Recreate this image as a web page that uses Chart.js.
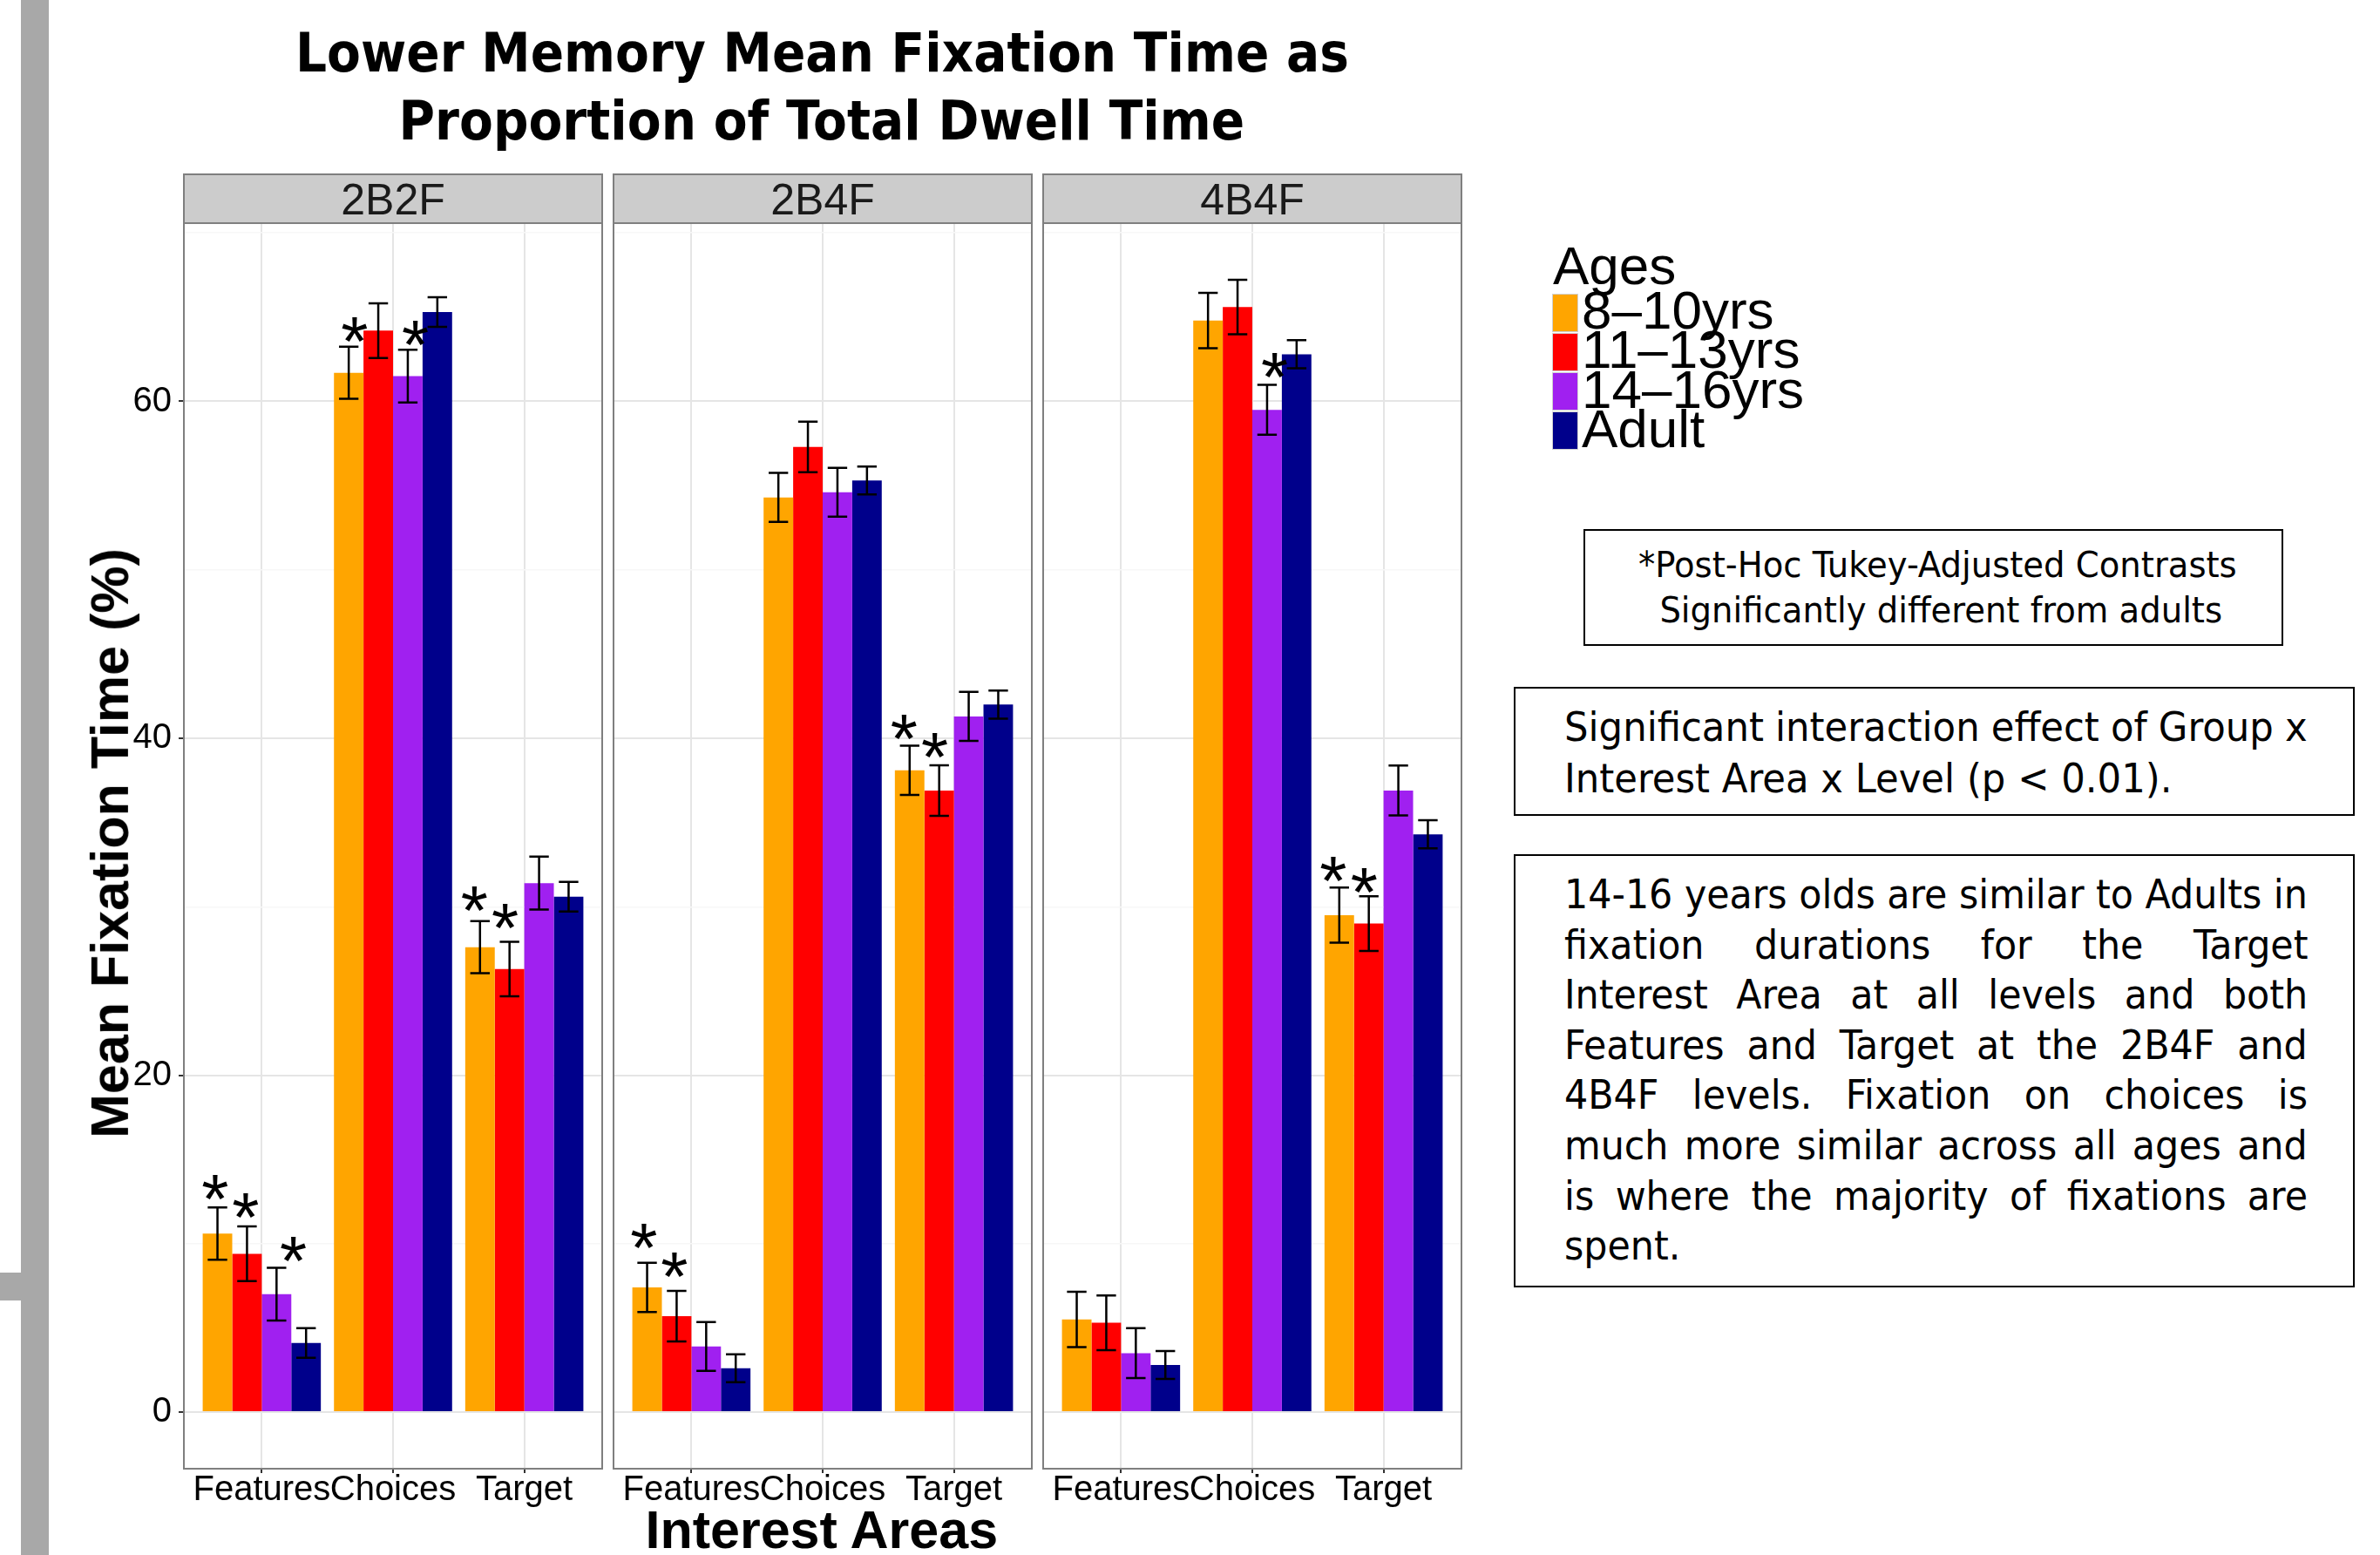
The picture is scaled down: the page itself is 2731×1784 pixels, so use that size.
<!DOCTYPE html>
<html>
<head>
<meta charset="utf-8">
<script src="https://cdn.jsdelivr.net/npm/chart.js@4.4.0/dist/chart.umd.min.js"></script>
<style>
  html, body { margin: 0; padding: 0; background: #fff; }
  body { width: 2731px; height: 1784px; position: relative; overflow: hidden; }
  .abs { position: absolute; white-space: nowrap; line-height: 1; color: #000; }
  canvas { position: absolute; }
  .box { position: absolute; border: 2.5px solid #000; box-sizing: border-box; }
  .key { position: absolute; width: 30px; height: 44px; box-sizing: border-box; border: 1px solid #d0d0d0; }
</style>
</head>
<body>
<div style="position:absolute;left:24px;top:0;width:32px;height:1784px;background:#a8a8a8"></div>
<div style="position:absolute;left:0;top:1460px;width:24px;height:32px;background:#a8a8a8"></div>
<div class="box" style="left:1817px;top:607px;width:803px;height:134px"></div>
<div class="box" style="left:1737px;top:788px;width:965px;height:148px"></div>
<div class="box" style="left:1737px;top:980px;width:965px;height:497px"></div>

<script>
const levels = ['2B2F', '2B4F', '4B4F'];
const areas = ['Features', 'Choices', 'Target'];
const ages = ['8–10yrs', '11–13yrs', '14–16yrs', 'Adult'];
const yTicks = [0, 20, 40, 60];

// mean fixation time (%), one row per age group, one column per interest area
const mean2B2F = [[10.6, 61.7, 27.6], [9.4, 64.2, 26.3], [7.0, 61.5, 31.4], [4.1, 65.3, 30.6]];
const mean2B4F = [[7.4, 54.3, 38.1], [5.7, 57.3, 36.9], [3.9, 54.6, 41.3], [2.6, 55.3, 42.0]];
const mean4B4F = [[5.5, 64.8, 29.5], [5.3, 65.6, 29.0], [3.5, 59.5, 36.9], [2.8, 62.8, 34.3]];

// standard error per age group
const se2B2F = [1.55, 1.62, 1.57, 0.88];
const se2B4F = [1.46, 1.50, 1.45, 0.83];
const se4B4F = [1.64, 1.62, 1.48, 0.83];

// significance stars: [position on the area axis, value]
const stars2B2F = [[0.645, 13.6], [0.876, 12.5], [1.24, 9.9], [1.707, 64.5], [2.17, 64.3], [2.62, 30.7], [2.853, 29.7]];
const stars2B4F = [[0.638, 10.7], [0.87, 9.0], [2.62, 40.9], [2.854, 39.8]];
const stars4B4F = [[2.17, 62.4], [2.617, 32.5], [2.852, 31.8]];

const means = [mean2B2F, mean2B4F, mean4B4F];
const ses = [se2B2F, se2B4F, se4B4F];
const stars = [stars2B2F, stars2B4F, stars4B4F];

const ageColors = ['#FFA500', '#FF0000', '#A020F0', '#00008B'];

// ggplot-style expansion of the value axis
let dataTop = 0;
means.forEach((m, p) => m.forEach((row, s) => row.forEach(v => { dataTop = Math.max(dataTop, v + ses[p][s]); })));
const yMax = dataTop * 1.05;
const yMin = -dataTop * 0.05;
const gridVals = [];
for (let v = 0; v <= yMax; v += 10) gridVals.push(v);

const panelLeft = [210, 703, 1196];
const panelW = 482;
const stripH = 57;
const canvasTop = 199;
const canvasH = 1546;
const xAxisH = 60;
const starSize = 80;

function decor(p) {
  return {
    id: 'decor' + p,
    beforeDraw(chart) {
      const { ctx, chartArea: a } = chart;
      ctx.save();
      ctx.fillStyle = '#fff';
      ctx.fillRect(a.left, a.top, a.right - a.left, a.bottom - a.top);
      ctx.fillStyle = '#cccccc';
      ctx.fillRect(a.left, a.top - stripH, a.right - a.left, stripH);
      ctx.strokeStyle = '#7f7f7f';
      ctx.lineWidth = 2;
      ctx.strokeRect(a.left + 1, a.top - stripH + 1, a.right - a.left - 2, stripH - 1);
      ctx.fillStyle = '#1a1a1a';
      ctx.font = '50px "Liberation Sans", Arial, sans-serif';
      ctx.textAlign = 'center';
      ctx.textBaseline = 'alphabetic';
      ctx.fillText(levels[p], (a.left + a.right) / 2, a.top - stripH / 2 + 18);
      ctx.restore();
    },
    afterDatasetsDraw(chart) {
      const { ctx } = chart;
      const y = chart.scales.y, x = chart.scales.x;
      ctx.save();
      ctx.strokeStyle = '#000';
      ctx.lineWidth = 2.5;
      chart.data.datasets.forEach((ds, di) => {
        chart.getDatasetMeta(di).data.forEach((bar, i) => {
          const v = ds.data[i].y, e = ds.se;
          const hi = y.getPixelForValue(v + e), lo = y.getPixelForValue(v - e);
          const hw = bar.width * 0.33;
          ctx.beginPath();
          ctx.moveTo(bar.x, hi); ctx.lineTo(bar.x, lo);
          ctx.moveTo(bar.x - hw, hi); ctx.lineTo(bar.x + hw, hi);
          ctx.moveTo(bar.x - hw, lo); ctx.lineTo(bar.x + hw, lo);
          ctx.stroke();
        });
      });
      ctx.fillStyle = '#000';
      ctx.font = starSize + 'px "Liberation Sans", Arial, sans-serif';
      ctx.textAlign = 'center';
      ctx.textBaseline = 'alphabetic';
      stars[p].forEach(([sx, sy]) => {
        ctx.fillText('*', x.getPixelForValue(sx), y.getPixelForValue(sy) + starSize * 0.57);
      });
      ctx.restore();
    },
    afterDraw(chart) {
      const { ctx, chartArea: a } = chart;
      ctx.save();
      ctx.strokeStyle = '#7f7f7f';
      ctx.lineWidth = 2;
      ctx.strokeRect(a.left + 1, a.top, a.right - a.left - 2, a.bottom - a.top);
      ctx.restore();
    }
  };
}

levels.forEach((lvl, p) => {
  const axisW = p === 0 ? 70 : 0;
  const cv = document.createElement('canvas');
  cv.width = axisW + panelW;
  cv.height = canvasH;
  cv.style.left = (panelLeft[p] - axisW) + 'px';
  cv.style.top = canvasTop + 'px';
  cv.style.width = cv.width + 'px';
  cv.style.height = cv.height + 'px';
  document.body.appendChild(cv);

  new Chart(cv, {
    type: 'bar',
    data: {
      datasets: ages.map((age, s) => ({
        label: age,
        data: means[p][s].map((v, i) => ({ x: i + 1, y: v })),
        se: ses[p][s],
        backgroundColor: ageColors[s],
        borderWidth: 0,
        categoryPercentage: 0.9,
        barPercentage: 1
      }))
    },
    options: {
      responsive: false,
      animation: false,
      devicePixelRatio: 1,
      layout: { padding: { top: stripH, left: 0, right: 0, bottom: 0 } },
      plugins: { legend: { display: false }, tooltip: { enabled: false }, title: { display: false } },
      scales: {
        x: {
          type: 'linear',
          offset: false,
          min: 0.4,
          max: 3.6,
          afterBuildTicks: s => { s.ticks = areas.map((a, i) => ({ value: i + 1 })); },
          afterFit: s => { s.height = xAxisH; },
          ticks: {
            callback: v => areas[v - 1] || '',
            font: { family: '"Liberation Sans", Arial, sans-serif', size: 40, lineHeight: 1 },
            color: '#000',
            padding: 0,
            minRotation: 0,
            maxRotation: 0,
            autoSkip: false
          },
          grid: { offset: false, color: '#e5e5e5', lineWidth: 2, tickLength: 5, tickColor: '#333', tickWidth: 2 },
          border: { display: false }
        },
        y: {
          min: yMin,
          max: yMax,
          afterBuildTicks: s => { s.ticks = gridVals.map(v => ({ value: v })); },
          afterFit: s => { s.width = axisW; },
          ticks: {
            display: p === 0,
            callback: v => yTicks.includes(v) ? String(v) : '',
            font: { family: '"Liberation Sans", Arial, sans-serif', size: 40, lineHeight: 1 },
            color: '#000',
            padding: 8
          },
          grid: {
            color: c => yTicks.includes(c.tick.value) ? '#e5e5e5' : '#f7f7f7',
            lineWidth: c => yTicks.includes(c.tick.value) ? 2 : 1.5,
            drawTicks: p === 0,
            tickLength: 5,
            tickWidth: 2,
            tickColor: c => yTicks.includes(c.tick.value) ? '#333' : 'rgba(0,0,0,0)'
          },
          border: { display: false }
        }
      }
    },
    plugins: [decor(p)]
  });
});

// ---- text around the chart ----
const SANS = '"Liberation Sans", Arial, sans-serif';
const TAHOMA = '"DejaVu Sans Condensed", "DejaVu Sans", sans-serif';
const TITLEF = '"DejaVu Sans", Verdana, sans-serif';

function text(str, o) {
  const d = document.createElement('div');
  d.className = 'abs';
  d.textContent = str;
  d.style.fontFamily = o.family;
  d.style.fontSize = o.size + 'px';
  d.style.fontWeight = o.weight || 'normal';
  d.style.top = (o.baseline - 0.846 * o.size) + 'px';
  document.body.appendChild(d);
  return d;
}

function place(d, o) {
  const w = d.offsetWidth;
  const s = o.scale || 1;
  if (o.align === 'center') {
    d.style.left = (o.x - w / 2) + 'px';
    d.style.transformOrigin = '50% 50%';
  } else {
    d.style.left = o.x + 'px';
    d.style.transformOrigin = '0 50%';
  }
  d.style.transform = 'scaleX(' + s + ')';
}

// title
const t1 = text('Lower Memory Mean Fixation Time as', { family: TITLEF, size: 63, weight: 'bold', baseline: 82 });
const t2 = text('Proportion of Total Dwell Time', { family: TITLEF, size: 63, weight: 'bold', baseline: 160 });
const ts = 1209 / t1.offsetWidth;
place(t1, { x: 943, align: 'center', scale: ts });
place(t2, { x: 943, align: 'center', scale: ts });

// axis titles
const xt = text('Interest Areas', { family: SANS, size: 61, weight: 'bold', baseline: 1777 });
place(xt, { x: 943, align: 'center' });
const yt = text('Mean Fixation Time (%)', { family: SANS, size: 61, weight: 'bold', baseline: 0 });
yt.style.left = (126 - yt.offsetWidth / 2) + 'px';
yt.style.top = (967 - 61 / 2) + 'px';
yt.style.transform = 'rotate(-90deg)';

// legend
const lg = text('Ages', { family: SANS, size: 62, baseline: 326 });
place(lg, { x: 1782 });
ages.forEach((age, s) => {
  const keyTop = 336.5 + s * 45.3;
  const k = document.createElement('div');
  k.className = 'key';
  k.style.left = '1781px';
  k.style.top = keyTop + 'px';
  k.style.background = ageColors[s];
  document.body.appendChild(k);
  const l = text(age, { family: SANS, size: 62, baseline: keyTop + 41 });
  place(l, { x: 1815 });
});

// note box 1 (centred)
const b1a = text('*Post-Hoc Tukey-Adjusted Contrasts', { family: TAHOMA, size: 40, baseline: 662 });
const b1b = text('Significantly different from adults', { family: TAHOMA, size: 40, baseline: 714 });
const s1 = 687 / b1a.offsetWidth;
place(b1a, { x: 2223, align: 'center', scale: s1 });
place(b1b, { x: 2227, align: 'center', scale: s1 });

// justified lines helper
function justify(lines, o) {
  const els = lines.map((ln, i) => text(ln, { family: TAHOMA, size: o.size, baseline: o.baseline + i * o.step }));
  const s = o.scale(els);
  els.forEach((d, i) => {
    const gaps = (lines[i].match(/ /g) || []).length;
    if (i < lines.length - 1 || o.justifyLast) {
      const need = o.width / s - d.offsetWidth;
      if (gaps) d.style.wordSpacing = (need / gaps) + 'px';
    }
    place(d, { x: o.x, scale: s });
  });
}

justify(['Significant interaction effect of Group x', 'Interest Area x Level (p < 0.01).'], {
  size: 46, baseline: 849.5, step: 59.5, x: 1795, width: 853,
  scale: els => 697 / els[1].offsetWidth
});

const para = [
  '14-16 years olds are similar to Adults in',
  'fixation durations for the Target',
  'Interest Area at all levels and both',
  'Features and Target at the 2B4F and',
  '4B4F levels. Fixation on choices is',
  'much more similar across all ages and',
  'is where the majority of fixations are',
  'spent.'
];
justify(para, {
  size: 46, baseline: 1042, step: 57.6, x: 1795, width: 853,
  scale: els => 853 / Math.max(...els.slice(0, -1).map(e => e.offsetWidth))
});
</script>
</body>
</html>
